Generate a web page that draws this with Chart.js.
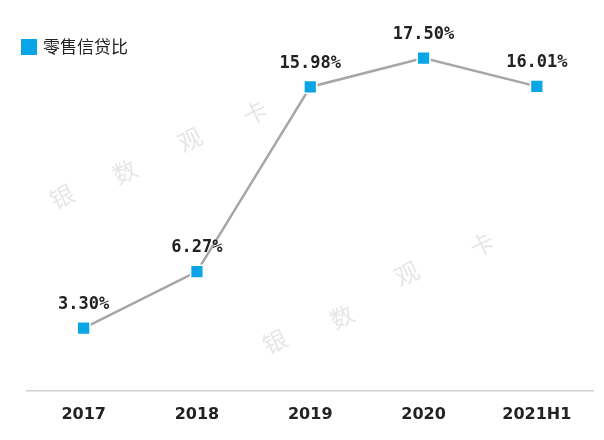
<!DOCTYPE html>
<html><head><meta charset="utf-8">
<script src="https://cdn.jsdelivr.net/npm/chart.js@4"></script>
<style>body{margin:0;background:#fff}#wrap{width:604px;height:440px}</style>
</head><body><div id="wrap"><canvas id="grafica"></canvas></div>
<script>
const categories = ['2017', '2018', '2019', '2020', '2021H1'];
const ratio = [3.30, 6.27, 15.98, 17.50, 16.01];
const seriesName = '零售信贷比';

const extras = {
  id: 'extras',
  afterDatasetsDraw(chart) {
    const c = chart.ctx;
    c.save();
    // watermark
    c.fillStyle = 'rgba(200,200,200,0.45)';
    c.font = '24px "Noto Sans CJK SC"';
    const wm = [[55, 210], [118, 185], [183, 153], [248, 126], [268, 355], [335, 330], [400, 287], [475, 258]];
    '银数观卡银数观卡'.split('').forEach((ch, i) => {
      c.save(); c.translate(wm[i][0], wm[i][1]); c.rotate(-0.45);
      c.fillText(ch, 0, 0); c.restore();
    });
    // legend
    c.fillStyle = '#0aa5e6';
    c.fillRect(21, 39, 16, 16);
    c.fillStyle = '#222';
    c.font = '17px "Noto Sans CJK SC"';
    c.textBaseline = 'middle';
    c.fillText(seriesName, 43, 47);
    // value labels
    const meta = chart.getDatasetMeta(0);
    c.font = 'bold 17px "DejaVu Sans Mono"';
    c.textAlign = 'center';
    c.textBaseline = 'bottom';
    meta.data.forEach((p, i) => {
      c.fillText(ratio[i].toFixed(2) + '%', p.x, p.y - 15);
    });
    c.restore();
  }
};

new Chart(document.getElementById('grafica').getContext('2d'), {
  type: 'line',
  data: {
    labels: categories,
    datasets: [{
      label: seriesName,
      data: ratio,
      borderColor: '#a6a6a6',
      borderWidth: 2.5,
      tension: 0,
      pointStyle: 'rect',
      pointRadius: 9,
      pointBackgroundColor: '#0aa5e6',
      pointBorderColor: '#ffffff',
      pointBorderWidth: 1.5,
    }],
  },
  options: {
    responsive: true,
    maintainAspectRatio: false,
    animation: false,
    layout: { padding: { top: 8, left: 27, right: 10, bottom: 2 } },
    plugins: { legend: { display: false }, tooltip: { enabled: false } },
    scales: {
      x: {
        offset: true,
        grid: { display: false, drawTicks: false },
        border: { color: '#d0d0d0', width: 1.5 },
        ticks: { color: '#222', padding: 14, font: { size: 16, weight: 'bold', family: 'DejaVu Sans' } },
      },
      y: {
        display: false,
        min: 0,
        max: 20,
      },
    },
  },
  plugins: [extras],
});
</script></body></html>
